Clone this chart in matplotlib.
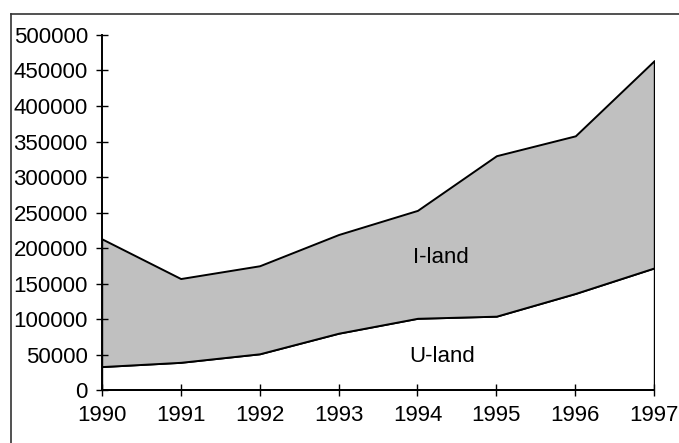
"""
stacked area chart: U-land and I-land, 1990-1997
"""

import matplotlib.pyplot as plt
from matplotlib.lines import Line2D

plt.rcParams["font.family"] = ["Liberation Sans", "DejaVu Sans"]

# data
years = [1990, 1991, 1992, 1993, 1994, 1995, 1996, 1997]
u_land = [33000, 39000, 51000, 80000, 101000, 104000, 136000, 172000]
i_land = [180000, 118000, 124000, 139000, 152000, 226000, 222000, 292000]
y_ticks = [0, 50000, 100000, 150000, 200000, 250000, 300000, 350000, 400000, 450000, 500000]

fig = plt.figure(figsize=(6.79, 4.43), dpi=100)
ax = fig.add_axes([0.1498, 0.1196, 0.8138, 0.8014])

ax.stackplot(
    years,
    u_land,
    i_land,
    colors=["white", "#c0c0c0"],
    edgecolor="black",
    linewidth=1.4,
)

ax.set_xlim(1990, 1997)
ax.set_ylim(0, 500000)
ax.set_xticks(years)
ax.set_yticks(y_ticks)
ax.set_xticklabels([str(y) for y in years])
ax.set_yticklabels([str(v) for v in y_ticks])

# excel-style crossing ticks
ax.tick_params(axis="both", direction="inout", length=8, width=1, labelsize=16)
ax.tick_params(axis="y", pad=6)
ax.tick_params(axis="x", pad=7)

for side in ["top", "right"]:
    ax.spines[side].set_visible(False)
for side in ["left", "bottom"]:
    ax.spines[side].set_linewidth(1.4)

# series labels inside the areas
ax.text(1994.3, 186000, "I-land", ha="center", va="center", fontsize=16)
ax.text(1994.31, 47000, "U-land", ha="center", va="center", fontsize=16)

# chart area border (cropped on right and bottom)
fig.add_artist(Line2D([11 / 679, 11 / 679], [0, 1 - 14 / 443],
                      transform=fig.transFigure, color="#333333", linewidth=1.2))
fig.add_artist(Line2D([11 / 679, 1], [1 - 14 / 443, 1 - 14 / 443],
                      transform=fig.transFigure, color="#333333", linewidth=1.2))

plt.savefig("out.png", dpi=100)
